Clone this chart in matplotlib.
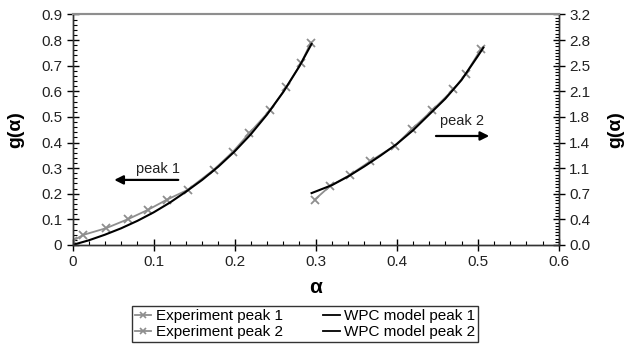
import numpy as np
import matplotlib
matplotlib.use("Agg")
import matplotlib.pyplot as plt
from matplotlib.ticker import MultipleLocator
from matplotlib.lines import Line2D

plt.rcParams['font.family'] = ['Liberation Sans', 'DejaVu Sans']

# experiment, peak 1 (left axis)
exp1_alpha = [0.0, 0.013, 0.041, 0.068, 0.093, 0.116, 0.142, 0.174, 0.198,
              0.218, 0.244, 0.264, 0.282, 0.294]
exp1_g = [0.015, 0.039, 0.065, 0.100, 0.137, 0.176, 0.215, 0.293, 0.364,
          0.436, 0.527, 0.616, 0.709, 0.790]

# WPC model, peak 1 (left axis)
mod1_alpha = [0.0, 0.02, 0.04, 0.06, 0.08, 0.10, 0.12, 0.14, 0.16, 0.18,
              0.20, 0.22, 0.24, 0.26, 0.28, 0.295]
mod1_g = [0.0, 0.018, 0.040, 0.065, 0.094, 0.127, 0.165, 0.208, 0.254, 0.306,
          0.365, 0.432, 0.509, 0.597, 0.698, 0.785]

# experiment, peak 2 (right axis)
exp2_alpha = [0.299, 0.318, 0.342, 0.367, 0.398, 0.419, 0.444, 0.470, 0.485, 0.504]
exp2_g = [0.63, 0.82, 0.97, 1.16, 1.38, 1.61, 1.87, 2.16, 2.37, 2.72]

# WPC model, peak 2 (right axis)
mod2_alpha = [0.295, 0.32, 0.34, 0.36, 0.38, 0.40, 0.42, 0.44, 0.46, 0.48, 0.50, 0.507]
mod2_g = [0.72, 0.83, 0.95, 1.09, 1.24, 1.40, 1.59, 1.81, 2.03, 2.29, 2.62, 2.74]

x_ticks = [0, 0.1, 0.2, 0.3, 0.4, 0.5, 0.6]
x_labels = ["0", "0.1", "0.2", "0.3", "0.4", "0.5", "0.6"]
yl_ticks = [0, 0.1, 0.2, 0.3, 0.4, 0.5, 0.6, 0.7, 0.8, 0.9]
yl_labels = ["0", "0.1", "0.2", "0.3", "0.4", "0.5", "0.6", "0.7", "0.8", "0.9"]
yr_ticks = np.linspace(0, 3.2, 10)
yr_labels = ["%.1f" % v for v in yr_ticks]

gray = "#8e8e8e"
tick_fs = 11

fig = plt.figure(figsize=(6.25, 3.45), dpi=100)
ax = fig.add_axes([0.116, 0.29, 0.778, 0.668])
ax2 = ax.twinx()

ax.plot(exp1_alpha, exp1_g, color=gray, lw=1.3, marker="x", ms=6, mew=1.3)
ax.plot(mod1_alpha, mod1_g, color="black", lw=1.5)
ax2.plot(exp2_alpha, exp2_g, color=gray, lw=1.3, marker="x", ms=6, mew=1.3)
ax2.plot(mod2_alpha, mod2_g, color="black", lw=1.5)

ax.set_xlim(0, 0.6)
ax.set_ylim(0, 0.9)
ax2.set_ylim(0, 3.2)

ax.set_xticks(x_ticks)
ax.set_xticklabels(x_labels)
ax.set_yticks(yl_ticks)
ax.set_yticklabels(yl_labels)
ax2.set_yticks(yr_ticks)
ax2.set_yticklabels(yr_labels)

ax.xaxis.set_minor_locator(MultipleLocator(0.02))
ax.yaxis.set_minor_locator(MultipleLocator(0.02))
ax2.yaxis.set_minor_locator(MultipleLocator(3.2 / 72))

for a in (ax, ax2):
    a.tick_params(which="major", direction="inout", length=9, width=1,
                  labelsize=tick_fs, labelcolor="#222222", pad=3)
    a.tick_params(which="minor", direction="in", length=3, width=0.8)
    for s in ("left", "right", "bottom"):
        a.spines[s].set_color("#333333")
        a.spines[s].set_linewidth(1)
    a.spines["top"].set_color(gray)
    a.spines["top"].set_linewidth(1.5)
ax.tick_params(axis="x", which="both", top=False)
ax.tick_params(axis="y", which="both", right=False)

ax.set_xlabel("α", fontsize=15, fontweight="bold", labelpad=6)
ax.set_ylabel("g(α)", fontsize=14, fontweight="bold", labelpad=12)
ax2.set_ylabel("g(α)", fontsize=14, fontweight="bold", labelpad=12)

# direction arrows with peak labels
ax.annotate("", xy=(0.0515, 0.254), xytext=(0.1305, 0.254),
            arrowprops=dict(arrowstyle="-|>", color="black", lw=1.6,
                            mutation_scale=13, shrinkA=0, shrinkB=0))
ax.text(0.105, 0.27, "peak 1", ha="center", va="bottom", fontsize=10.5,
        color="#222222")
ax2.annotate("", xy=(0.5142, 1.513), xytext=(0.4485, 1.513),
             arrowprops=dict(arrowstyle="-|>", color="black", lw=1.6,
                             mutation_scale=13, shrinkA=0, shrinkB=0))
ax2.text(0.4806, 1.63, "peak 2", ha="center", va="bottom", fontsize=10.5,
         color="#222222")

handles = [
    Line2D([], [], color=gray, lw=1.3, marker="x", ms=5, mew=1.2),
    Line2D([], [], color=gray, lw=1.3, marker="x", ms=5, mew=1.2),
    Line2D([], [], color="black", lw=1.3),
    Line2D([], [], color="black", lw=1.3),
]
labels = ["Experiment peak 1", "Experiment peak 2",
          "WPC model peak 1", "WPC model peak 2"]
leg = fig.legend(handles, labels, ncol=2, loc="upper center",
                 bbox_to_anchor=(0.488, 0.112), fontsize=11, frameon=True,
                 fancybox=False, edgecolor="black", handlelength=1.1,
                 handletextpad=0.3, columnspacing=2.6, labelspacing=0.1,
                 borderpad=0.2, borderaxespad=0)
leg.get_frame().set_linewidth(1)

fig.savefig("out.png", dpi=100)
